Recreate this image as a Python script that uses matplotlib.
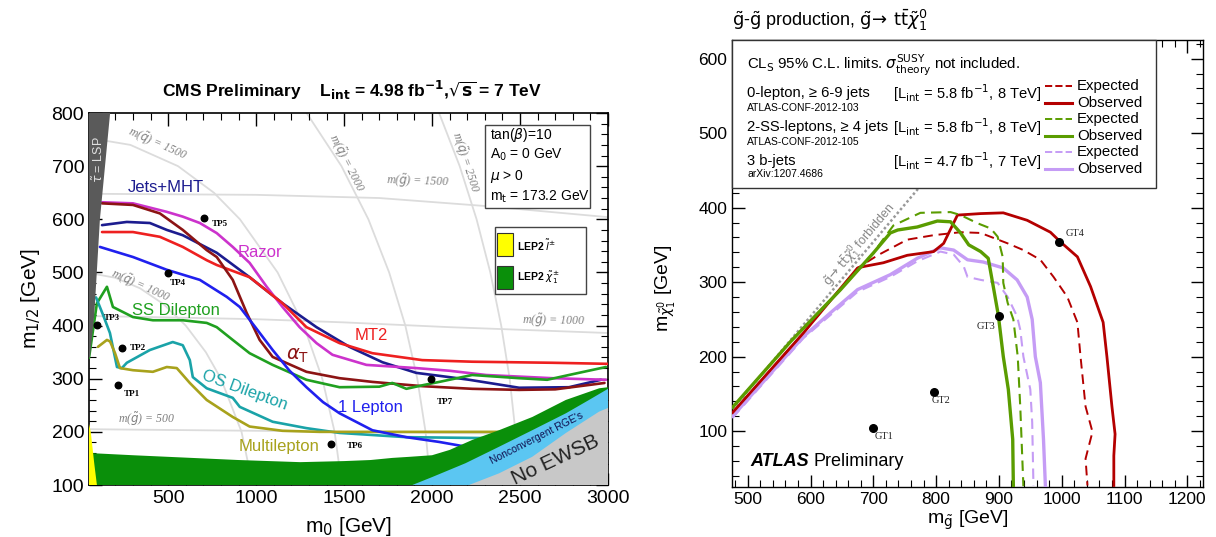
import matplotlib
matplotlib.use('Agg')
import matplotlib.pyplot as plt
from matplotlib.patches import Rectangle, Polygon
from matplotlib.ticker import MultipleLocator

plt.rcParams['font.family'] = ['Liberation Sans', 'DejaVu Sans']
plt.rcParams['mathtext.fontset'] = 'dejavusans'

# ---------------- LEFT PANEL DATA (CMS, m0 vs m1/2) ----------------
jets_mht_x = [124, 265, 396, 492, 583, 776, 963, 1150, 1343, 1530, 1718, 1910, 2098, 2211, 2495, 2778, 2960]
jets_mht_y = [589, 595, 593, 580, 570, 537, 491, 442, 397, 360, 331, 311, 303, 298, 283, 284, 298]

razor_x = [124, 300, 492, 583, 680, 776, 867, 963, 1060, 1150, 1247, 1343, 1434, 1627, 1910, 2098, 2307, 2682, 2988]
razor_y = [632, 630, 614, 605, 593, 574, 548, 518, 473, 435, 397, 367, 345, 326, 320, 315, 307, 301, 298]

mt2_x = [124, 300, 453, 583, 719, 776, 963, 1150, 1286, 1474, 1661, 1944, 2228, 2682, 3000]
mt2_y = [576, 576, 567, 548, 523, 514, 491, 442, 397, 367, 348, 335, 332, 330, 328]

alphat_x = [124, 300, 453, 583, 719, 776, 867, 946, 1020, 1094, 1286, 1474, 1661, 1944, 2228, 2495, 2700, 2980]
alphat_y = [630, 627, 611, 580, 542, 529, 486, 424, 373, 341, 313, 301, 294, 286, 281, 279, 280, 292]

ssdilep_x = [50, 95, 152, 186, 300, 413, 583, 719, 776, 867, 963, 1094, 1286, 1474, 1700, 1774, 1854, 1950, 2041, 2228, 2495, 2654, 2778, 2988]
ssdilep_y = [339, 442, 473, 435, 416, 410, 410, 405, 397, 373, 348, 326, 298, 284, 285, 292, 281, 288, 294, 307, 301, 298, 307, 322]

osdilep_x = [90, 130, 169, 209, 237, 265, 396, 526, 583, 623, 640, 719, 867, 907, 1094, 1286, 1474, 1854, 2381, 3000]
osdilep_y = [453, 420, 386, 322, 320, 330, 354, 369, 363, 335, 303, 282, 264, 247, 219, 207, 198, 190, 188, 187]

multilep_x = [101, 152, 170, 198, 226, 300, 413, 492, 549, 623, 719, 867, 963, 1150, 1360, 2000, 2552]
multilep_y = [360, 373, 370, 348, 320, 316, 313, 322, 320, 292, 260, 228, 210, 202, 200, 200, 200]

onelep_x = [112, 300, 492, 680, 833, 907, 1000, 1094, 1190, 1286, 1380, 1474, 1661, 1854, 2041, 2194]
onelep_y = [548, 529, 505, 486, 454, 435, 395, 354, 315, 284, 256, 235, 203, 190, 181, 172]

# excluded / theory regions
stau_x = [50, 170, 112, 80, 55, 50]
stau_y = [800, 800, 600, 420, 340, 340]
lep_slep_x = [50, 50, 60, 80, 95]
lep_slep_y = [100, 215, 200, 140, 100]
lep_char_top_x = [60, 300, 500, 900, 1250, 1500, 1650, 1775, 1870, 2000, 2100, 2230, 2380, 2570, 2760, 2950, 3000]
lep_char_top_y = [160, 156, 153, 147, 143, 145, 147, 151, 153, 156, 166, 185, 203, 228, 260, 282, 284]
nonconv_top_x = [1888, 2001, 2190, 2381, 2569, 2761, 2892, 3000]
nonconv_top_y = [100, 115, 141, 172, 203, 235, 260, 281]
noewsb_top_x = [2210, 2381, 2569, 2761, 2949, 3000]
noewsb_top_y = [100, 122, 153, 198, 238, 245]

# iso-mass guide contours
msq1000_x = [50, 199, 341, 475, 600, 714, 800, 917, 980]
msq1000_y = [499, 490, 470, 440, 400, 350, 300, 200, 100]
msq1500_x = [50, 285, 556, 760, 908, 1122, 1271, 1376, 1446, 1487]
msq1500_y = [753, 740, 700, 650, 600, 500, 400, 300, 200, 100]
msq2000_x = [1287, 1485, 1638, 1756, 1848, 1916, 1963, 1991]
msq2000_y = [800, 700, 600, 500, 400, 300, 200, 100]
msq2500_x = [2040, 2157, 2253, 2331, 2393, 2441, 2474, 2493]
msq2500_y = [800, 700, 600, 500, 400, 300, 200, 100]
mgl500_x = [50, 1000, 2000, 3000]
mgl500_y = [205, 202, 198, 195]
mgl1000_x = [50, 400, 1000, 1500, 2100, 3000]
mgl1000_y = [418, 416, 412, 406, 397, 386]
mgl1500_x = [50, 1000, 1700, 2300, 3000]
mgl1500_y = [648, 646, 640, 625, 604]

tp_names = ['TP1', 'TP2', 'TP3', 'TP4', 'TP5', 'TP6', 'TP7']
tp_x = [215, 237, 95, 498, 702, 1428, 1996]
tp_y = [288, 358, 401, 499, 602, 177, 299]

# ---------------- RIGHT PANEL DATA (ATLAS, gluino vs neutralino) ----------------
red_obs_x = [476, 589, 675, 685, 716, 754, 796, 812, 834, 871, 907, 945, 982, 998, 1025, 1046, 1066, 1072, 1080, 1085, 1083, 1083]
red_obs_y = [125, 232, 319, 321, 326, 336, 341, 352, 390, 392, 393, 383, 367, 354, 334, 294, 246, 200, 133, 96, 67, 27]
red_exp_x = [476, 589, 675, 707, 754, 796, 839, 871, 914, 939, 966, 987, 1009, 1025, 1030, 1038, 1049, 1038, 1041]
red_exp_y = [125, 232, 319, 336, 357, 363, 367, 366, 352, 343, 330, 307, 280, 246, 200, 133, 99, 63, 27]
grn_obs_x = [476, 568, 648, 700, 727, 739, 770, 802, 823, 839, 852, 871, 883, 890, 899, 907, 915, 922, 923]
grn_obs_y = [132, 220, 290, 339, 366, 370, 374, 382, 381, 366, 350, 341, 332, 299, 256, 200, 156, 89, 27]
grn_exp_x = [476, 568, 648, 700, 718, 732, 775, 823, 839, 866, 887, 898, 906, 907, 914, 923, 930, 934, 939]
grn_exp_y = [132, 220, 290, 339, 360, 376, 393, 394, 390, 379, 372, 361, 334, 299, 272, 250, 200, 133, 26]
vio_obs_x = [476, 589, 632, 675, 727, 770, 807, 828, 850, 875, 907, 929, 945, 953, 958, 966, 971, 974]
vio_obs_y = [120, 227, 259, 290, 310, 332, 346, 343, 330, 327, 319, 303, 280, 250, 200, 165, 89, 27]
vio_exp_x = [476, 589, 632, 675, 727, 770, 807, 828, 844, 850, 871, 898, 914, 929, 934, 939, 950, 953, 955]
vio_exp_y = [118, 225, 256, 287, 307, 328, 341, 337, 321, 307, 303, 299, 280, 254, 236, 200, 156, 112, 27]
forbid_x = [476, 800]
forbid_y = [130, 454]

gt_names = ['GT1', 'GT2', 'GT3', 'GT4']
gt_x = [700, 796, 900, 995]
gt_y = [104, 153, 255, 354]

# ---------------- FIGURE ----------------
fig = plt.figure(figsize=(12.16, 5.37), dpi=100)
axL = fig.add_axes([89/1216, 1-485/537, (608-89)/1216, (485-113)/537])
axR = fig.add_axes([732/1216, 1-487/537, (1203-732)/1216, (487-40)/537])

guide = dict(color='#dcdcdc', lw=1.3, zorder=1)
for gx_, gy_ in [(msq1000_x, msq1000_y), (msq1500_x, msq1500_y), (msq2000_x, msq2000_y),
                 (msq2500_x, msq2500_y), (mgl500_x, mgl500_y), (mgl1000_x, mgl1000_y),
                 (mgl1500_x, mgl1500_y)]:
    axL.plot(gx_, gy_, **guide)

glab = dict(color='#808080', fontsize=8.5, family='Liberation Serif', style='italic', zorder=2)
axL.text(436, 742, r'm($\tilde{q}$) = 1500', rotation=-24, ha='center', va='center', **glab)
axL.text(340, 474, r'm($\tilde{q}$) = 1000', rotation=-24, ha='center', va='center', **glab)
axL.text(1510, 706, r'm($\tilde{q}$) = 2000', rotation=-63, ha='center', va='center', **glab)
axL.text(2185, 708, r'm($\tilde{q}$) = 2500', rotation=-72, ha='center', va='center', **glab)
axL.text(1920, 652, r'm($\tilde{g}$) = 1500', rotation=-2, ha='center', va='bottom', **glab)
axL.text(2690, 392, r'm($\tilde{g}$) = 1000', rotation=-1, ha='center', va='bottom', **glab)
axL.text(375, 208, r'm($\tilde{g}$) = 500', rotation=0, ha='center', va='bottom', **glab)

curves = [
    (jets_mht_x, jets_mht_y, '#1c1c8f'),
    (razor_x, razor_y, '#cc33cc'),
    (mt2_x, mt2_y, '#ee2020'),
    (alphat_x, alphat_y, '#8c1414'),
    (ssdilep_x, ssdilep_y, '#20a020'),
    (osdilep_x, osdilep_y, '#1aa3a8'),
    (multilep_x, multilep_y, '#a8a21c'),
    (onelep_x, onelep_y, '#2020ee'),
]
for cx, cy, col in curves:
    axL.plot(cx, cy, color=col, lw=1.9, zorder=3, solid_capstyle='round', solid_joinstyle='round')

# regions
char_poly = list(zip(lep_char_top_x, lep_char_top_y)) + [(3000, 100), (60, 100)]
axL.add_patch(Polygon(char_poly, closed=True, fc='#0a8f0a', ec='none', zorder=4))
nc_poly = list(zip(nonconv_top_x, nonconv_top_y)) + [(3000, 100)]
axL.add_patch(Polygon(nc_poly, closed=True, fc='#5bc6f2', ec='none', zorder=4))
ne_poly = list(zip(noewsb_top_x, noewsb_top_y)) + [(3000, 100)]
axL.add_patch(Polygon(ne_poly, closed=True, fc='#c8c8c8', ec='none', zorder=4))
axL.add_patch(Polygon(list(zip(lep_slep_x, lep_slep_y)), closed=True, fc='#ffff00', ec='none', zorder=4))
axL.add_patch(Polygon(list(zip(stau_x, stau_y)), closed=True, fc='#5a5a5a', ec='none', zorder=4))
axL.text(108, 712, r'$\tilde{\tau}$ = LSP', rotation=90, color='#e0e0e0', fontsize=9, ha='center', va='center', zorder=5)
axL.text(2595, 188, "Nonconvergent RGE's", rotation=27, fontsize=7.5, color='#101050', ha='center', va='center', zorder=5)
axL.text(2700, 147, 'No EWSB', rotation=25, fontsize=15, color='#222222', ha='center', va='center', zorder=5)

# TP points
axL.scatter(tp_x, tp_y, s=22, color='black', zorder=6)
tp_off = [(4, -6.5), (6, 0), (5, 5), (1.5, -7), (6, -4.5), (11, -1.5), (4, -16.5)]
for n, x, y, (dx, dy) in zip(tp_names, tp_x, tp_y, tp_off):
    axL.annotate(n, (x, y), xytext=(dx, dy), textcoords='offset points', fontsize=6.5,
                 fontweight='bold', family='Liberation Serif', ha='left', va='center', zorder=6)

# curve labels
axL.text(487, 659, 'Jets+MHT', color='#1c1c8f', fontsize=12, ha='center', va='center')
axL.text(1020, 537, 'Razor', color='#cc33cc', fontsize=12, ha='center', va='center')
axL.text(543, 429, 'SS Dilepton', color='#20a020', fontsize=12, ha='center', va='center')
axL.text(935, 279, 'OS Dilepton', color='#1aa3a8', fontsize=12, ha='center', va='center', rotation=-20)
axL.text(1655, 382, 'MT2', color='#ee2020', fontsize=12, ha='center', va='center')
axL.text(1235, 343, r'$\alpha_{\mathrm{T}}$', color='#8c1414', fontsize=14, ha='center', va='center')
axL.text(1650, 245, '1 Lepton', color='#2020ee', fontsize=12, ha='center', va='center')
axL.text(1133, 172, 'Multilepton', color='#a8a21c', fontsize=12, ha='center', va='center')

# info box
fx = lambda px: (px - 89) / 519
fy = lambda py: (485 - py) / 372
axL.add_patch(Rectangle((fx(485), fy(208)), fx(590) - fx(485), fy(125) - fy(208), transform=axL.transAxes,
                        fc='white', ec='#444444', lw=1.0, zorder=7))
for txt, py in [(r'tan($\beta$)=10', 135), (r'A$_0$ = 0 GeV', 155), (r'$\mu$ > 0', 177), (r'm$_{\rm t}$ = 173.2 GeV', 197)]:
    axL.text(fx(490), fy(py), txt, transform=axL.transAxes, fontsize=10, ha='left', va='center', zorder=8)
axL.add_patch(Rectangle((fx(495), fy(294)), fx(586) - fx(495), fy(227) - fy(294), transform=axL.transAxes,
                        fc='white', ec='#444444', lw=1.0, zorder=7))
axL.add_patch(Rectangle((fx(497), fy(256)), fx(513) - fx(497), fy(233) - fy(256), transform=axL.transAxes,
                        fc='#ffff00', ec='#333333', lw=0.8, zorder=8))
axL.add_patch(Rectangle((fx(497), fy(289)), fx(513) - fx(497), fy(266) - fy(289), transform=axL.transAxes,
                        fc='#0a8f0a', ec='#333333', lw=0.8, zorder=8))
axL.text(fx(517), fy(245), r'LEP2 $\tilde{l}^{\pm}$', transform=axL.transAxes, fontsize=7.5, fontweight='bold', va='center', zorder=8)
axL.text(fx(517), fy(278), r'LEP2 $\tilde{\chi}_1^{\pm}$', transform=axL.transAxes, fontsize=7.5, fontweight='bold', va='center', zorder=8)

axL.set_xlim(50, 3000)
axL.set_ylim(100, 800)
axL.xaxis.set_major_locator(MultipleLocator(500))
axL.xaxis.set_minor_locator(MultipleLocator(100))
axL.yaxis.set_major_locator(MultipleLocator(100))
axL.yaxis.set_minor_locator(MultipleLocator(20))
axL.tick_params(which='both', direction='in', top=True, right=True, labelsize=14)
axL.tick_params(which='major', length=9, width=1)
axL.tick_params(which='minor', length=5, width=0.8)
axL.set_xlabel(r'm$_0$ [GeV]', fontsize=15, labelpad=6)
axL.set_ylabel(r'm$_{1/2}$ [GeV]', fontsize=15, labelpad=6)
for s in axL.spines.values():
    s.set_linewidth(1.2)
fig.text(352/1216, 1-90/537, r'CMS Preliminary    L$_{\mathbf{int}}$ = 4.98 fb$^{\mathbf{-1}}$,$\sqrt{\mathbf{s}}$ = 7 TeV',
         fontsize=12.5, fontweight='bold', ha='center', va='center')

# ---------------- RIGHT PANEL ----------------
axR.plot(forbid_x, forbid_y, color='#999999', lw=1.8, ls=(0, (1, 1)), zorder=2)
axR.text(678, 350, r'$\tilde{\mathrm{g}}\!\rightarrow\,\mathrm{t}\bar{\mathrm{t}}\tilde{\chi}_1^0$ forbidden', rotation=50,
         color='#888888', fontsize=9, ha='center', va='center', rotation_mode='anchor', zorder=2)

RED, GRN, VIO = '#b40000', '#5a9c00', '#c59cf5'
axR.plot(vio_exp_x, vio_exp_y, color=VIO, lw=1.5, ls=(0, (5, 3)), zorder=3)
axR.plot(vio_obs_x, vio_obs_y, color=VIO, lw=2.4, zorder=3)
axR.plot(red_exp_x, red_exp_y, color=RED, lw=1.4, ls=(0, (5, 3)), zorder=3)
axR.plot(red_obs_x, red_obs_y, color=RED, lw=2.0, zorder=3)
axR.plot(grn_exp_x, grn_exp_y, color=GRN, lw=1.5, ls=(0, (5, 3)), zorder=3)
axR.plot(grn_obs_x, grn_obs_y, color=GRN, lw=2.4, zorder=3)

axR.scatter(gt_x, gt_y, s=30, color='black', zorder=6)
gt_off = [(1, -6), (-1.5, -6.5), (-16, -8), (5, 6)]
for n, x, y, (dx, dy) in zip(gt_names, gt_x, gt_y, gt_off):
    axR.annotate(n, (x, y), xytext=(dx, dy), textcoords='offset points', fontsize=7.5,
                 family='Liberation Serif', color='#222222', ha='left', va='center', zorder=6)

axR.text(505, 59, 'ATLAS', fontsize=13, fontweight='bold', style='italic', ha='left', va='center', zorder=6)
axR.text(604, 59, 'Preliminary', fontsize=13, ha='left', va='center', zorder=6)

gx = lambda px: (px - 732) / 471
gy = lambda py: (487 - py) / 447
axR.add_patch(Rectangle((0, gy(188)), gx(1156), 1 - gy(188), transform=axR.transAxes,
                        fc='white', ec='#333333', lw=1.0, zorder=7, clip_on=False))
axR.text(gx(747), gy(65), r'CL$_{\rm S}$ 95% C.L. limits. $\sigma^{\rm SUSY}_{\rm theory}$ not included.',
         transform=axR.transAxes, fontsize=10.8, va='center', zorder=8)
rows = [('0-lepton, ≥ 6-9 jets', 'ATLAS-CONF-2012-103', '5.8', '8', 93, 108),
        ('2-SS-leptons, ≥ 4 jets', 'ATLAS-CONF-2012-105', '5.8', '8', 127, 142),
        ('3 b-jets', 'arXiv:1207.4686', '4.7', '7', 161, 174)]
for main, sub, lum, en, py1, py2 in rows:
    axR.text(gx(747), gy(py1), main, transform=axR.transAxes, fontsize=10.6, va='center', zorder=8)
    axR.text(gx(747), gy(py2), sub, transform=axR.transAxes, fontsize=7.5, va='center', zorder=8)
    axR.text(gx(893), gy(py1), r'[L$_{\rm int}$ = %s fb$^{-1}$, %s TeV]' % (lum, en),
             transform=axR.transAxes, fontsize=10.6, va='center', zorder=8)
leg = [(RED, '--', 1.4, 'Expected', 86), (RED, '-', 2.2, 'Observed', 103),
       (GRN, '--', 1.4, 'Expected', 119), (GRN, '-', 2.2, 'Observed', 136),
       (VIO, '--', 1.4, 'Expected', 152), (VIO, '-', 2.2, 'Observed', 169)]
for col, ls, lw, lab, py in leg:
    axR.plot([gx(1045), gx(1072)], [gy(py), gy(py)], transform=axR.transAxes, color=col, ls=ls, lw=lw,
             zorder=8, clip_on=False)
    axR.text(gx(1077), gy(py), lab, transform=axR.transAxes, fontsize=10.8, va='center', zorder=8)

axR.set_xlim(475, 1225)
axR.set_ylim(25, 625)
axR.xaxis.set_major_locator(MultipleLocator(100))
axR.xaxis.set_minor_locator(MultipleLocator(20))
axR.yaxis.set_major_locator(MultipleLocator(100))
axR.yaxis.set_minor_locator(MultipleLocator(20))
axR.tick_params(which='both', direction='in', top=True, right=True, labelsize=12.5)
axR.tick_params(which='major', length=9, width=1)
axR.tick_params(which='minor', length=5, width=0.8)
axR.set_xlabel(r'm$_{\tilde{\mathrm{g}}}$ [GeV]', fontsize=14, labelpad=1)
axR.set_ylabel(r'm$_{\tilde{\chi}_1^0}$ [GeV]', fontsize=14)
axR.yaxis.set_label_coords(-0.115, 0.445)
for s in axR.spines.values():
    s.set_linewidth(1.0)
fig.text(732/1216, 1-20/537,
         r'$\tilde{\mathrm{g}}$-$\tilde{\mathrm{g}}$ production, $\tilde{\mathrm{g}}\!\rightarrow\,\mathrm{t}\bar{\mathrm{t}}\tilde{\chi}_1^0$',
         fontsize=13, ha='left', va='center')

fig.savefig('out.png', dpi=100)
